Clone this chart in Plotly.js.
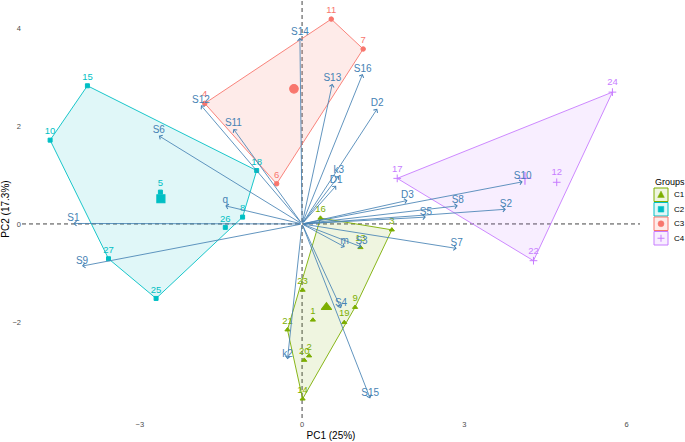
<!DOCTYPE html>
<html>
<head>
<meta charset="utf-8">
<script src="https://cdn.plot.ly/plotly-3.0.1.min.js"></script>
<style>html,body{margin:0;padding:0;background:#fff;}#chart{width:685px;height:442px;}</style>
</head>
<body>
<div id="chart"></div>
<script>
// ---- data ----
const groupNames = ['C1', 'C2', 'C3', 'C4'];

const c1Labels = ['16', '3', '13', '23', '9', '19', '1', '21', '2', '20', '14'];
const c1X = [0.34, 1.66, 1.08, 0.01, 0.98, 0.78, 0.20, -0.27, 0.13, 0.04, 0.01];
const c1Y = [0.12, -0.12, -0.48, -1.35, -1.70, -2.01, -1.96, -2.16, -2.69, -2.78, -3.57];

const c2Labels = ['15', '10', '18', '5', '8', '26', '27', '25'];
const c2X = [-3.97, -4.66, -0.84, -2.62, -1.10, -1.42, -3.58, -2.70];
const c2Y = [2.82, 1.71, 1.09, 0.65, 0.14, -0.07, -0.71, -1.52];

const c3Labels = ['11', '7', '4', '6'];
const c3X = [0.54, 1.13, -1.80, -0.47];
const c3Y = [4.18, 3.57, 2.46, 0.82];

const c4Labels = ['24', '17', '12', '22'];
const c4X = [5.74, 1.76, 4.71, 4.28];
const c4Y = [2.69, 0.93, 0.85, -0.75];

const varNames = ['S14', 'S12', 'S11', 'S6', 'q', 'S1', 'S9', 'k2', 'S15', 'S4', 'm', 'S3', 'S7', 'S5', 'S2', 'S8', 'D3', 'S10', 'D1', 'k3', 'S13', 'S16', 'D2'];
const varX = [-0.04, -1.87, -1.27, -2.65, -1.42, -4.23, -4.07, -0.27, 1.26, 0.72, 0.79, 1.10, 2.86, 2.29, 3.77, 2.88, 1.95, 4.08, 0.63, 0.68, 0.56, 1.12, 1.39];
const varY = [3.80, 2.42, 1.94, 1.80, 0.37, 0.01, -0.86, -2.76, -3.56, -1.72, -0.47, -0.47, -0.50, 0.14, 0.30, 0.37, 0.48, 0.86, 0.78, 0.98, 2.86, 3.06, 2.35];

const xTitle = 'PC1 (25%)';
const yTitle = 'PC2 (17.3%)';
const legendTitle = 'Groups';

// ---- styling ----
const colors = ['#7CAE00', '#00BFC4', '#F8766D', '#C77CFF'];
const fills = ['rgba(124,174,0,0.12)', 'rgba(0,191,196,0.12)', 'rgba(248,118,109,0.15)', 'rgba(199,124,255,0.13)'];
const symbols = ['triangle-up', 'square', 'circle', 'cross-thin-open'];
const ptSize = [4.5, 4, 4.5, 5.5];
const cenSize = [9, 8, 8.5, 9];
const arrowColor = '#4682B4';
const FONT = 'Liberation Sans, Arial, Helvetica, sans-serif';

const M = {l: 22, r: 45, t: 0, b: 24};
const W = 685, H = 442;
const PW = W - M.l - M.r, PH = H - M.t - M.b;
const pxX = p => (p - M.l) / PW;          // pixel -> paper x
const pxY = p => (H - M.b - p) / PH;      // pixel -> paper y

const groups = [
  {labels: c1Labels, x: c1X, y: c1Y},
  {labels: c2Labels, x: c2X, y: c2Y},
  {labels: c3Labels, x: c3X, y: c3Y},
  {labels: c4Labels, x: c4X, y: c4Y}
];

function hull(xs, ys) {
  const pts = xs.map((x, i) => [x, ys[i]]).sort((a, b) => a[0] - b[0] || a[1] - b[1]);
  const cross = (o, a, b) => (a[0] - o[0]) * (b[1] - o[1]) - (a[1] - o[1]) * (b[0] - o[0]);
  const lower = [];
  for (const p of pts) { while (lower.length >= 2 && cross(lower[lower.length - 2], lower[lower.length - 1], p) <= 0) lower.pop(); lower.push(p); }
  const upper = [];
  for (let i = pts.length - 1; i >= 0; i--) { const p = pts[i]; while (upper.length >= 2 && cross(upper[upper.length - 2], upper[upper.length - 1], p) <= 0) upper.pop(); upper.push(p); }
  upper.pop(); lower.pop();
  const h = lower.concat(upper);
  h.push(h[0]);
  return h;
}
const mean = a => a.reduce((s, v) => s + v, 0) / a.length;

const traces = [];
groups.forEach((g, i) => {
  const h = hull(g.x, g.y);
  traces.push({
    type: 'scatter', mode: 'lines', x: h.map(p => p[0]), y: h.map(p => p[1]),
    fill: 'toself', fillcolor: fills[i], line: {color: colors[i], width: 0.9},
    name: groupNames[i], showlegend: false, hoverinfo: 'skip'
  });
});
groups.forEach((g, i) => {
  traces.push({
    type: 'scatter', mode: 'markers+text', x: g.x, y: g.y, text: g.labels,
    textposition: 'top center', textfont: {family: FONT, size: 9.5, color: colors[i]},
    marker: {symbol: symbols[i], size: ptSize[i], color: colors[i], line: {color: colors[i], width: 1}},
    name: groupNames[i], showlegend: false, cliponaxis: false
  });
  traces.push({
    type: 'scatter', mode: 'markers', x: [mean(g.x)], y: [mean(g.y)],
    marker: {symbol: symbols[i], size: cenSize[i], color: colors[i], line: {color: colors[i], width: 1.2}},
    name: groupNames[i], showlegend: false
  });
});
traces.push({
  type: 'scatter', mode: 'text', x: varX, y: varY, text: varNames,
  textposition: 'top center', textfont: {family: FONT, size: 10, color: arrowColor},
  showlegend: false, hoverinfo: 'skip', cliponaxis: false
});

const annotations = varNames.map((n, i) => ({
  x: varX[i], y: varY[i], ax: 0, ay: 0, xref: 'x', yref: 'y', axref: 'x', ayref: 'y',
  text: '', showarrow: true, arrowhead: 4, arrowsize: 1.1, arrowwidth: 0.85, arrowcolor: arrowColor, standoff: 0
}));

// ---- manual legend (ggplot style keys) ----
const shapes = [
  {type: 'line', xref: 'x', yref: 'paper', x0: 0, x1: 0, y0: 0, y1: 1, line: {color: '#444', width: 1, dash: '4px,3px'}, layer: 'below'},
  {type: 'line', xref: 'paper', yref: 'y', x0: 0, x1: 1, y0: 0, y1: 0, line: {color: '#444', width: 1, dash: '4px,3px'}, layer: 'below'}
];
annotations.push({xref: 'paper', yref: 'paper', x: pxX(653), y: pxY(182), xanchor: 'left', yanchor: 'middle',
  text: legendTitle, showarrow: false, font: {family: FONT, size: 9, color: '#000'}});
const keyX0 = 654, keyX1 = 668, keyTop = 188, keyStep = 14.5, keyH = 13.5;
groupNames.forEach((n, i) => {
  const t = keyTop + i * keyStep, b = t + keyH, cx = (keyX0 + keyX1) / 2, cy = (t + b) / 2;
  shapes.push({type: 'rect', xref: 'paper', yref: 'paper', x0: pxX(keyX0), x1: pxX(keyX1), y0: pxY(b), y1: pxY(t),
    fillcolor: fills[i], line: {color: colors[i], width: 1}});
  const r = 3.3;
  let s;
  if (i === 0) {
    s = {type: 'path', path: `M ${pxX(cx - r)},${pxY(cy + r * 0.8)} L ${pxX(cx + r)},${pxY(cy + r * 0.8)} L ${pxX(cx)},${pxY(cy - r * 1.1)} Z`,
      fillcolor: colors[i], line: {color: colors[i], width: 0.5}};
  } else if (i === 1) {
    s = {type: 'rect', x0: pxX(cx - 2.8), x1: pxX(cx + 2.8), y0: pxY(cy + 2.8), y1: pxY(cy - 2.8), fillcolor: colors[i], line: {color: colors[i], width: 0.5}};
  } else if (i === 2) {
    s = {type: 'circle', x0: pxX(cx - 3), x1: pxX(cx + 3), y0: pxY(cy + 3), y1: pxY(cy - 3), fillcolor: colors[i], line: {color: colors[i], width: 0.5}};
  } else {
    s = {type: 'path', path: `M ${pxX(cx - 3.5)},${pxY(cy)} L ${pxX(cx + 3.5)},${pxY(cy)} M ${pxX(cx)},${pxY(cy - 3.5)} L ${pxX(cx)},${pxY(cy + 3.5)}`,
      line: {color: colors[i], width: 1}};
  }
  s.xref = 'paper'; s.yref = 'paper';
  shapes.push(s);
  annotations.push({xref: 'paper', yref: 'paper', x: pxX(672), y: pxY(cy), xanchor: 'left', yanchor: 'middle',
    text: n, showarrow: false, font: {family: FONT, size: 8, color: '#000'}});
});

const layout = {
  width: W, height: H,
  margin: M,
  paper_bgcolor: '#fff', plot_bgcolor: '#fff',
  font: {family: FONT, color: '#000'},
  xaxis: {range: [-5.18, 6.25], tickvals: [-3, 0, 3, 6], showgrid: false, zeroline: false, showline: false,
    ticks: '', tickfont: {size: 7.5, color: '#4d4d4d'}, automargin: false,
    title: {text: xTitle, font: {size: 10, color: '#000'}, standoff: 4}},
  yaxis: {range: [-3.96, 4.57], tickvals: [-2, 0, 2, 4], showgrid: false, zeroline: false, showline: false,
    ticks: '', tickfont: {size: 7.5, color: '#4d4d4d'}, automargin: false,
    title: {text: yTitle, font: {size: 10, color: '#000'}, standoff: 2}},
  shapes: shapes,
  annotations: annotations,
  showlegend: false
};

Plotly.newPlot('chart', traces, layout, {displayModeBar: false, staticPlot: true});
</script>
</body>
</html>
